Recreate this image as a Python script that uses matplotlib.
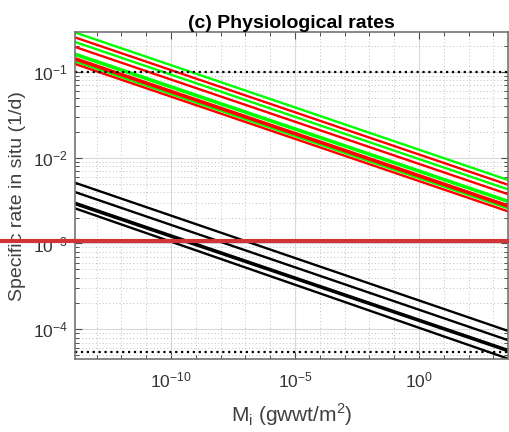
import matplotlib
matplotlib.use("Agg")
import matplotlib.pyplot as plt
from matplotlib.lines import Line2D
from matplotlib.ticker import LogLocator, NullFormatter

plt.rcParams["font.family"] = ["Liberation Sans", "DejaVu Sans"]

# mass range spanned by the size spectrum (gwwt/m^2)
mass_ends = [1.35e-14, 3.9e3]

# specific rates at the two ends of the mass range (1/d)
green_left = [0.289, 0.224, 0.164, 0.158, 0.133]
green_right = [0.00550, 0.00428, 0.00316, 0.00305, 0.00257]
red_left = [0.253, 0.196, 0.145, 0.140, 0.124]
red_right = [0.00484, 0.00376, 0.00279, 0.00269, 0.00237]
black_left = [0.00511, 0.00398, 0.00299, 0.00288, 0.00257]
black_right = [9.57e-5, 7.46e-5, 5.75e-5, 5.55e-5, 4.54e-5]

# reference levels drawn as dotted lines
ref_levels = [0.1, 5.4e-5]

fig = plt.figure(figsize=(5.09, 4.32), dpi=100)
ax = fig.add_axes([0.1473, 0.169, 0.8507, 0.7562])

for lo, hi in zip(green_left, green_right):
    ax.plot(mass_ends, [lo, hi], color=(0, 1, 0), lw=1.7)
for lo, hi in zip(red_left, red_right):
    ax.plot(mass_ends, [lo, hi], color=(1, 0, 0), lw=1.7)
for lo, hi in zip(black_left, black_right):
    ax.plot(mass_ends, [lo, hi], color="k", lw=1.7)
for lev in ref_levels:
    ax.axhline(lev, color="k", ls=":", lw=1.6)

ax.set_xscale("log")
ax.set_yscale("log")
ax.set_xlim(mass_ends)
ax.set_ylim(4.5e-5, 0.29)

ax.set_xticks([1e-10, 1e-5, 1e0])
ax.xaxis.set_minor_locator(LogLocator(base=10, subs=(1.0,), numticks=40))
ax.xaxis.set_minor_formatter(NullFormatter())
ax.yaxis.set_major_locator(LogLocator(base=10, numticks=20))
ax.yaxis.set_minor_locator(LogLocator(base=10, subs=range(2, 10), numticks=20))
ax.yaxis.set_minor_formatter(NullFormatter())

ax.grid(True, which="major", color="0.85", lw=0.8, ls="-")
ax.grid(True, which="minor", color="0.75", lw=0.7, ls=(0, (1, 2.5)))
ax.set_axisbelow(True)

ax.tick_params(which="both", direction="in", top=True, right=True,
               colors="0.3", labelcolor="0.2", labelsize=12.5)
ax.tick_params(which="major", length=5, width=0.8)
ax.tick_params(which="minor", length=3, width=0.7)
ax.tick_params(axis="x", which="major", pad=8)
ax.tick_params(axis="y", which="major", pad=5)
for sp in ax.spines.values():
    sp.set_color("0.45")
    sp.set_linewidth(1.2)

ax.set_title("(c) Physiological rates", fontsize=14, fontweight="bold", pad=3)
ax.set_ylabel("Specific rate in situ (1/d)", fontsize=14, color="0.25", labelpad=5)
ax.set_xlabel(r"M$_\mathregular{i}$ (gwwt/m$^\mathregular{2}$)", fontsize=15,
              color="0.25", labelpad=8)

fig.add_artist(Line2D([0, 1], [0.442, 0.442], transform=fig.transFigure,
                      color="#d13438", lw=3))

fig.savefig("out.png", dpi=100)
